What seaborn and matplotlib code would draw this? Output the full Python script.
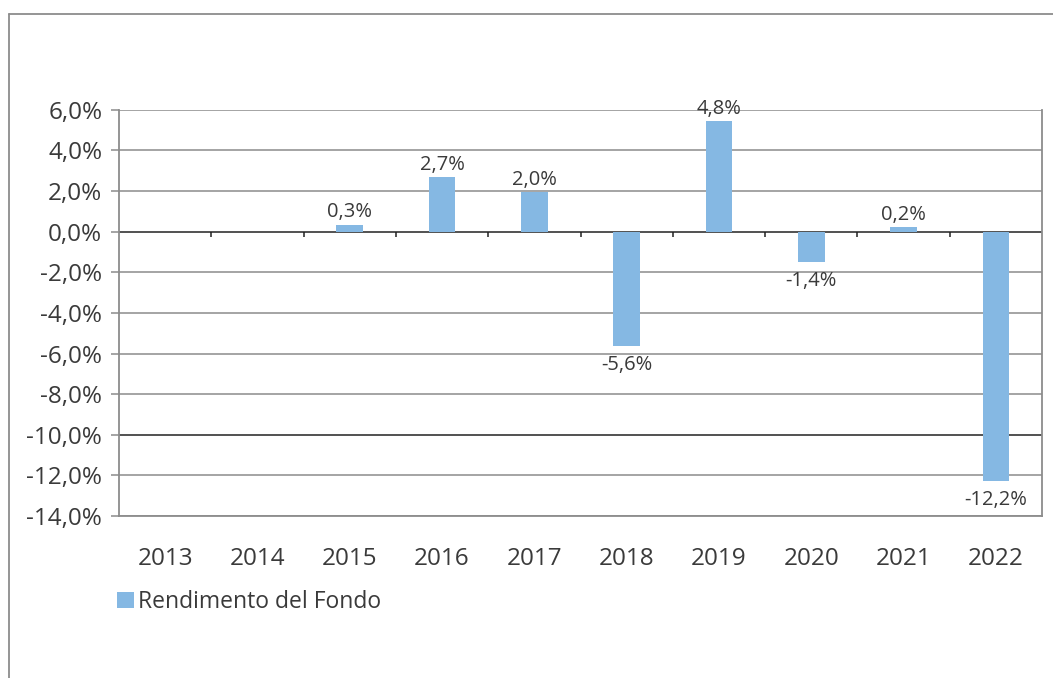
import numpy as np
import pandas as pd
import matplotlib.pyplot as plt
import seaborn as sns
from matplotlib.lines import Line2D

# Dati del grafico
anni = ['2013', '2014', '2015', '2016', '2017', '2018', '2019', '2020', '2021', '2022']
rendimento = [np.nan, np.nan, 0.35, 2.7, 1.95, -5.65, 5.45, -1.5, 0.25, -12.3]
etichette = ['', '', '0,3%', '2,7%', '2,0%', '-5,6%', '4,8%', '-1,4%', '0,2%', '-12,2%']
y_ticks = [6, 4, 2, 0, -2, -4, -6, -8, -10, -12, -14]
serie = 'Rendimento del Fondo'

sns.set_theme(style='white')
plt.rcParams['font.family'] = ['Open Sans', 'DejaVu Sans']

colore_barre = '#85B8E3'
grigio = '#8C8C8C'
testo = '#3A3A3A'

df = pd.DataFrame({'anno': anni, 'valore': rendimento})

fig = plt.figure(figsize=(10.53, 6.78), dpi=100)
ax = fig.add_axes([0.113, 0.239, 0.8766, 0.599])

sns.barplot(data=df, x='anno', y='valore', order=anni, color=colore_barre,
            width=0.29, saturation=1, label=serie, linewidth=0, ax=ax, zorder=3)

ax.set_ylim(-14, 6)
ax.set_xlim(-0.5, len(anni) - 0.5)
ax.set_yticks(y_ticks)
ax.set_yticklabels([f"{v:.1f}%".replace('.', ',') for v in y_ticks])
ax.set_xlabel('')
ax.set_ylabel('')

# griglia orizzontale
for v in y_ticks:
    c = '#222222' if v in (0, -10) else grigio
    ax.axhline(v, color=c, lw=1.1, zorder=2)

# tacche tra le categorie sulla linea dello zero
ax.vlines(np.arange(1, len(anni)) - 0.5, 0, -0.25, color='#222222', lw=1.1, zorder=2)

for s in ax.spines.values():
    s.set_color(grigio)
    s.set_linewidth(1.3)
ax.spines['top'].set_visible(False)

ax.tick_params(axis='y', length=6, width=1.1, color=grigio, labelsize=17.5,
               labelcolor=testo, pad=6, left=True)
ax.tick_params(axis='x', length=0, labelsize=17.5, labelcolor=testo, pad=22)

# etichette dei valori
for i, (v, t) in enumerate(zip(rendimento, etichette)):
    if not t:
        continue
    if v >= 0:
        ax.annotate(t, (i, v), xytext=(0, 1.5), textcoords='offset points',
                    ha='center', va='bottom', fontsize=14.5, color=testo, annotation_clip=False)
    else:
        ax.annotate(t, (i, v), xytext=(0, -6.5), textcoords='offset points',
                    ha='center', va='top', fontsize=14.5, color=testo, annotation_clip=False)

leg = ax.legend(loc='center left', bbox_to_anchor=(0.111, 1 - 602 / 678),
                bbox_transform=fig.transFigure, frameon=False, fontsize=16.5,
                handlelength=0.75, handleheight=0.75, handletextpad=0.15,
                borderpad=0, borderaxespad=0)
for txt in leg.get_texts():
    txt.set_color(testo)

# cornice esterna
fig.add_artist(Line2D([9 / 1053, 9 / 1053], [0, 1 - 14 / 678], color=grigio, lw=1.3))
fig.add_artist(Line2D([9 / 1053, 1], [1 - 14 / 678, 1 - 14 / 678], color=grigio, lw=1.3))

fig.savefig('out.png', dpi=100)
plt.close(fig)
